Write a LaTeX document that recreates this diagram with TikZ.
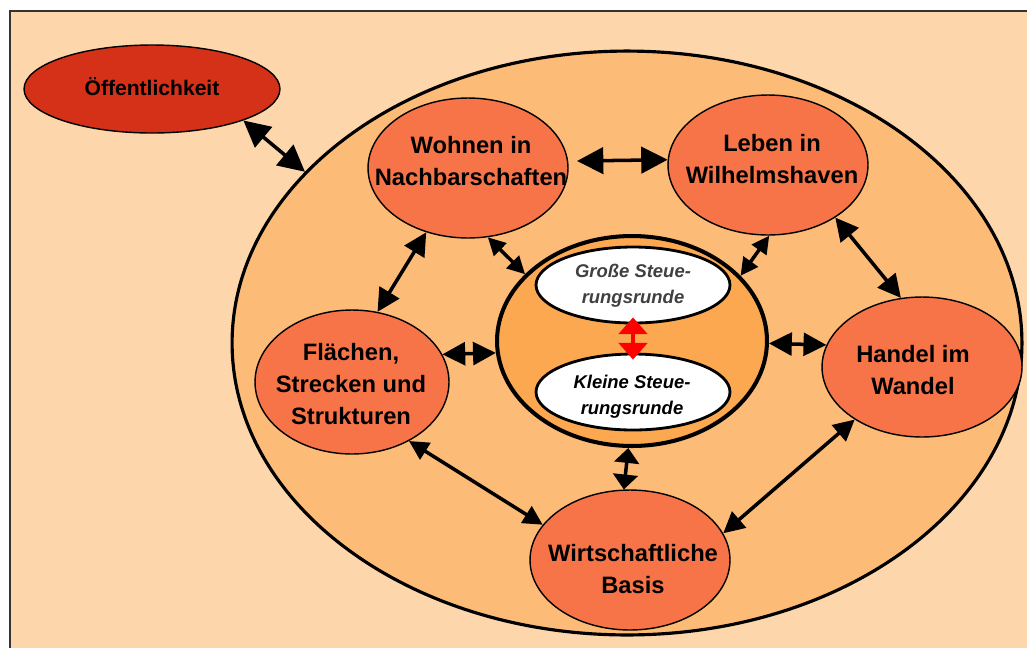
\documentclass[tikz,border=0pt]{standalone}
\usepackage{fontspec}
\setmainfont{Liberation Sans}
\usetikzlibrary{shapes.geometric,arrows.meta}
\definecolor{bgpeach}{RGB}{253,214,172}
\definecolor{outerorange}{RGB}{253,187,120}
\definecolor{centerorange}{RGB}{251,168,80}
\definecolor{topicorange}{RGB}{247,116,72}
\definecolor{publicred}{RGB}{212,49,24}
\definecolor{steergray}{RGB}{64,64,64}
\tikzset{
  topic/.style={ellipse, draw=black, line width=0.8pt, fill=topicorange, inner sep=0pt,
    minimum width=4cm, minimum height=2.8cm},
  topictext/.style={align=center, inner sep=0pt, font=\bfseries\fontsize{13.5}{18}\selectfont},
  steer/.style={ellipse, draw=black, line width=1.6pt, fill=white, inner sep=0pt,
    minimum width=3.88cm, minimum height=1.52cm},
  steertext/.style={align=center, inner sep=0pt, font=\bfseries\itshape\fontsize{10.5}{15}\selectfont},
  arr/.style={{Triangle[length=#1,width=#1]}-{Triangle[length=#1,width=#1]}, line width=2pt, black},
  arr/.default=12pt,
  redarr/.style={{Triangle[length=9.5pt,width=16pt]}-{Triangle[length=9.5pt,width=16pt]}, line width=2.5pt, red},
}
\begin{document}
\begin{tikzpicture}[x=0.02cm,y=-0.02cm]
\useasboundingbox (0,0) rectangle (1027,647);
\clip (0,0) rectangle (1027,647);
\fill[white] (0,0) rectangle (1027,647);
\draw[fill=bgpeach, draw=black!80, line width=1.2pt] (10,11) rectangle (1045,665);

\node[ellipse, draw=black, line width=0.8pt, fill=publicred, inner sep=0pt,
  minimum width=5.12cm, minimum height=1.76cm] (pub) at (152,89) {};
\node[topictext, font=\bfseries\fontsize{12}{14}\selectfont] (pubt) at (152,87) {Öffentlichkeit};

\node[ellipse, draw=black, line width=1.8pt, fill=outerorange, minimum width=15.8cm, minimum height=11.68cm, inner sep=0pt] (outer) at (627,343) {};

\node[ellipse, draw=black, line width=2.3pt, fill=centerorange, minimum width=5.4cm, minimum height=4.2cm, inner sep=0pt] (center) at (632,341) {};

\node[steer] (gross) at (633,285) {};
\node[steertext, text=steergray] (grosst) at (633,286) {Große Steue-\\rungsrunde};
\node[steer] (klein) at (633,392) {};
\node[steertext] (kleint) at (632,397) {Kleine Steue-\\rungsrunde};
\draw[redarr, shorten <=-4pt, shorten >=-4pt] (gross.south) -- (klein.north);

\node[topic] (wohnen) at (468,168) {};
\node[topictext] (wohnent) at (471,161) {Wohnen in\\Nachbarschaften};
\node[topic] (leben) at (768,165) {};
\node[topictext] (lebent) at (772,159) {Leben in\\Wilhelmshaven};
\node[topic, minimum width=3.88cm, minimum height=2.88cm] (flaechen) at (352,382) {};
\node[topictext] (flaechent) at (351,384) {Flächen,\\Strecken und\\Strukturen};
\node[topic] (handel) at (922,367) {};
\node[topictext] (handelt) at (913,370) {Handel im\\Wandel};
\node[topic] (wirt) at (630,560) {};
\node[topictext] (wirtt) at (633,569) {Wirtschaftliche\\Basis};

\draw[arr=15pt] (pub.-19) -- (outer.152.2);
\draw[arr=15pt] ([xshift=5pt]wohnen.4.6) -- (leben.177);
\draw[arr=13pt] (wohnen.237.3) -- (flaechen.70.5);
\draw[arr=10pt] (wohnen.-74.6) -- (center.148.8);
\draw[arr=10pt] (leben.271.6) -- (center.31.5);
\draw[arr=13pt] (leben.-38) -- (handel.107.4);
\draw[arr=13pt] (flaechen.17.9) -- (center.185);
\draw[arr=13pt] (center.-1.7) -- (handel.167);
\draw[arr=11pt] (flaechen.-46.4) -- (wirt.158);
\draw[{Triangle[length=8.5pt,width=14pt]}-{Triangle[length=8.5pt,width=14pt]}, line width=2pt] (center.268.4) -- (wirt.95);
\draw[arr=12pt] (wirt.16) -- (handel.218);
\end{tikzpicture}
\end{document}
